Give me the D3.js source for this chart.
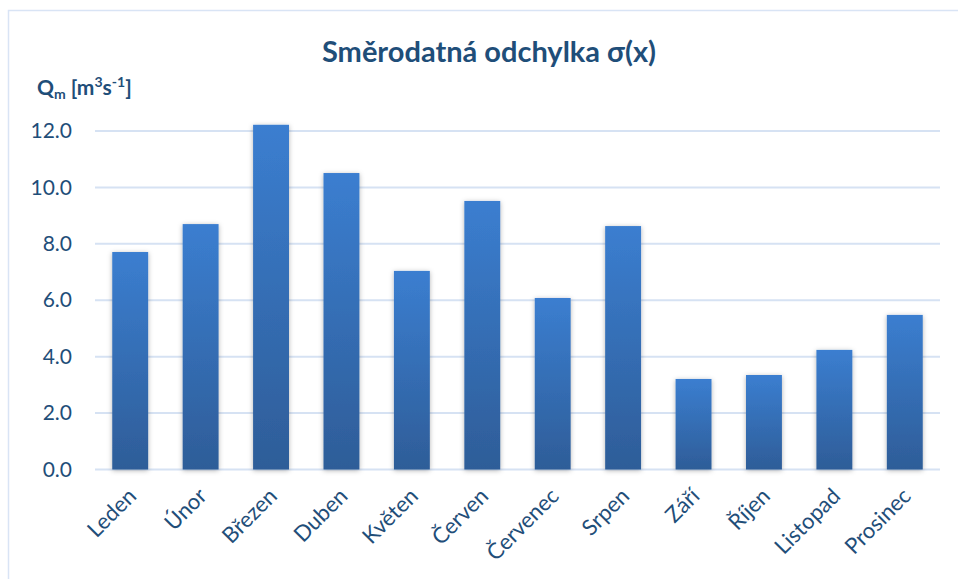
<!DOCTYPE html>
<html>
<head>
<meta charset="utf-8">
<script src="https://cdn.jsdelivr.net/npm/d3@7"></script>
<style>
  body { margin: 0; background: #fff; }
  svg text { font-family: Lato, "Open Sans", sans-serif; }
</style>
</head>
<body>
<div class="chartHolder"></div>
<script>
var months = ["Leden", "Únor", "Březen", "Duben", "Květen", "Červen",
  "Červenec", "Srpen", "Září", "Říjen", "Listopad", "Prosinec"];
var sigma = [7.71, 8.70, 12.22, 10.51, 7.04, 9.52, 6.08, 8.63, 3.21, 3.35, 4.24, 5.48];
var yTicks = [0, 2, 4, 6, 8, 10, 12];

var width = 958;
var height = 579;
var textColor = "#1f4e79";

var svg = d3
  .select(".chartHolder")
  .append("svg")
  .attr("width", width)
  .attr("height", height);

var defs = svg.append("defs");

// bar gradient, lighter at the top
var grad = defs
  .append("linearGradient")
  .attr("id", "barGrad")
  .attr("x1", 0).attr("y1", 0)
  .attr("x2", 0).attr("y2", 1);
grad.append("stop").attr("offset", "0%").attr("stop-color", "#3b7ed0");
grad.append("stop").attr("offset", "100%").attr("stop-color", "#2e5d98");

var shadow = defs
  .append("filter")
  .attr("id", "shadow")
  .attr("x", "-30%").attr("y", "-10%")
  .attr("width", "160%").attr("height", "120%");
shadow
  .append("feDropShadow")
  .attr("dx", 0).attr("dy", 1)
  .attr("stdDeviation", 2.5)
  .attr("flood-color", "#000")
  .attr("flood-opacity", 0.3);

// chart border
svg
  .append("rect")
  .attr("x", 8.5)
  .attr("y", 10.5)
  .attr("width", 970)
  .attr("height", 600)
  .attr("fill", "none")
  .attr("stroke", "#d9e4f5")
  .attr("stroke-width", 1.5);

var xScale = d3
  .scaleBand()
  .domain(months)
  .range([95, 940])
  .paddingInner(0.49)
  .paddingOuter(0.245);

var yScale = d3
  .scaleLinear()
  .domain([0, 12])
  .range([469.5, 131]);

// gridlines
svg
  .append("g")
  .selectAll("line")
  .data(yTicks)
  .enter()
  .append("line")
  .attr("x1", 95)
  .attr("x2", 940)
  .attr("y1", (d) => yScale(d))
  .attr("y2", (d) => yScale(d))
  .attr("stroke", "#d6e2f3")
  .attr("stroke-width", 2);

// y axis labels
var yAxis = d3
  .axisLeft(yScale)
  .tickValues(yTicks)
  .tickFormat(d3.format(".1f"))
  .tickSize(0)
  .tickPadding(0);

var yAxisGroup = svg
  .append("g")
  .attr("transform", "translate(72,0)")
  .call(yAxis);
yAxisGroup.select(".domain").remove();
yAxisGroup
  .selectAll("text")
  .attr("fill", textColor)
  .style("font-size", "21px");

// bars
svg
  .append("g")
  .selectAll("rect")
  .data(sigma)
  .enter()
  .append("rect")
  .attr("x", (d, i) => xScale(months[i]))
  .attr("y", (d) => yScale(d))
  .attr("width", xScale.bandwidth())
  .attr("height", (d) => yScale(0) - yScale(d))
  .attr("fill", "url(#barGrad)")
  .attr("filter", "url(#shadow)");

// x axis labels, rotated
var xAxis = d3.axisBottom(xScale).tickSize(0).tickPadding(0);
var xAxisGroup = svg
  .append("g")
  .attr("transform", "translate(0,492)")
  .call(xAxis);
xAxisGroup.select(".domain").remove();
xAxisGroup
  .selectAll("text")
  .attr("fill", textColor)
  .style("font-size", "22px")
  .attr("text-anchor", "end")
  .attr("dy", "0.35em")
  .attr("transform", "translate(2,0) rotate(-45)");

// title
svg
  .append("text")
  .attr("x", 489)
  .attr("y", 62)
  .attr("text-anchor", "middle")
  .attr("fill", textColor)
  .style("font-size", "29px")
  .style("font-weight", "bold")
  .text("Směrodatná odchylka σ(x)");

// y axis title
var yTitle = svg
  .append("text")
  .attr("x", 37)
  .attr("y", 95)
  .attr("fill", textColor)
  .style("font-size", "21px")
  .style("font-weight", "bold");
yTitle.append("tspan").text("Q");
yTitle.append("tspan").attr("dy", 4).style("font-size", "14px").text("m");
yTitle.append("tspan").attr("dy", -4).text(" [m");
yTitle.append("tspan").attr("dy", -8).style("font-size", "14px").text("3");
yTitle.append("tspan").attr("dy", 8).text("s");
yTitle.append("tspan").attr("dy", -8).style("font-size", "14px").text("-1");
yTitle.append("tspan").attr("dy", 8).text("]");
</script>
</body>
</html>
